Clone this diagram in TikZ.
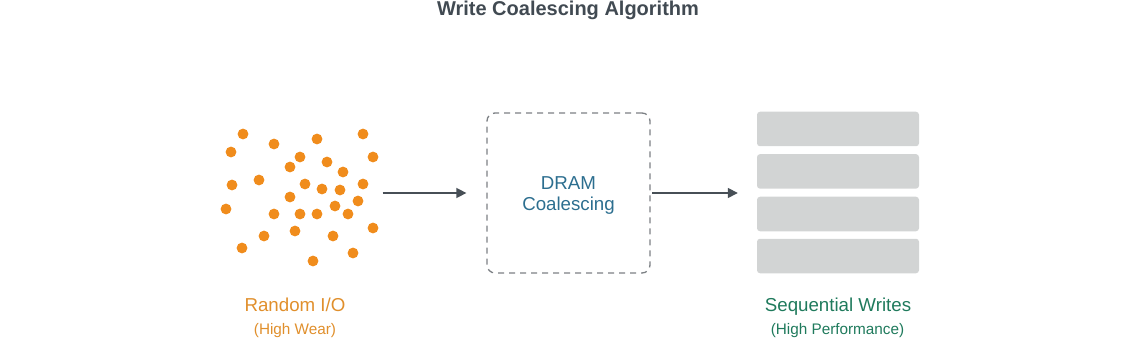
\documentclass[tikz,border=0pt]{standalone}
\usepackage{fontspec}
\setmainfont{Liberation Sans}
\usetikzlibrary{arrows.meta}
\definecolor{dotc}{HTML}{F08C1C}
\definecolor{orangetxt}{HTML}{E08F2C}
\definecolor{greentxt}{HTML}{1F7A5C}
\definecolor{bluetxt}{HTML}{2C6E8F}
\definecolor{titlec}{HTML}{414A52}
\definecolor{arrowc}{HTML}{474F56}
\definecolor{dashc}{HTML}{7C8084}
\definecolor{barc}{HTML}{D2D4D4}
\tikzset{
  dotnode/.style={circle,fill=dotc,draw=none,minimum size=10.8pt,inner sep=0pt},
  barnode/.style={rectangle,fill=barc,draw=none,rounded corners=3pt,minimum width=162pt,minimum height=34.5pt,inner sep=0pt},
  flowarrow/.style={draw=arrowc,line width=1.5pt,-{Triangle[length=10pt,width=10pt]}},
  labelmain/.style={anchor=base,font=\fontsize{18.7}{22}\selectfont,inner sep=0pt},
  labelsub/.style={anchor=base,font=\fontsize{15.3}{18}\selectfont,inner sep=0pt},
  ghost/.style={rectangle,draw=none,inner sep=0pt}
}
\begin{document}
\begin{tikzpicture}[x=1pt,y=-1pt]
\useasboundingbox (0,0) rectangle (1140,339);
\node[anchor=base,inner sep=0pt,text=titlec,font=\bfseries\fontsize{20}{22}\selectfont] (title) at (568,15.5) {Write Coalescing Algorithm};
% dots
\foreach \x/\y [count=\i] in {243/134,274/144,317/139,363/134,231/152,300/157,290/167,327/162,373/157,343/172,232/185,259/180,305/184,322/189,340/190,363/184,290/197,358/201,335/206,226/209,274/214,300/214,317/214,348/214,373/228,295/231,264/236,333/236,242/248,353/253,313/261}
  \node[dotnode] (dot\i) at (\x,\y) {};
\node[ghost,minimum width=158pt,minimum height=138pt] (cloud) at (299.5,193) {};
% DRAM box
\node[rectangle,draw=dashc,line width=1.3pt,dash pattern=on 6pt off 5pt,rounded corners=8pt,minimum width=163pt,minimum height=160pt,inner sep=0pt] (dram) at (568.5,193) {};
\node[labelmain,text=bluetxt] (dramA) at (568.5,189.3) {DRAM};
\node[labelmain,text=bluetxt] (dramB) at (568.5,211) {Coalescing};
% bars
\node[barnode] (bar1) at (838,129) {};
\node[barnode] (bar2) at (838,171.4) {};
\node[barnode] (bar3) at (838,214) {};
\node[barnode] (bar4) at (838,256) {};
\node[ghost,minimum width=162pt,minimum height=161pt] (stack) at (838,192.7) {};
% arrows
\draw[flowarrow] ([xshift=4pt]cloud.east) -- ([xshift=-20pt]cloud.east -| dram.west);
\draw[flowarrow] ([xshift=1.5pt]dram.east) -- ([xshift=-19pt]dram.east -| stack.west);
% labels
\node[labelmain,text=orangetxt] (rio) at (295,311.7) {Random I/O};
\node[labelsub,text=orangetxt] (hw) at (295,334) {(High Wear)};
\node[labelmain,text=greentxt] (sw) at (838,311.7) {Sequential Writes};
\node[labelsub,text=greentxt] (hp) at (837.5,334) {(High Performance)};
\end{tikzpicture}
\end{document}
